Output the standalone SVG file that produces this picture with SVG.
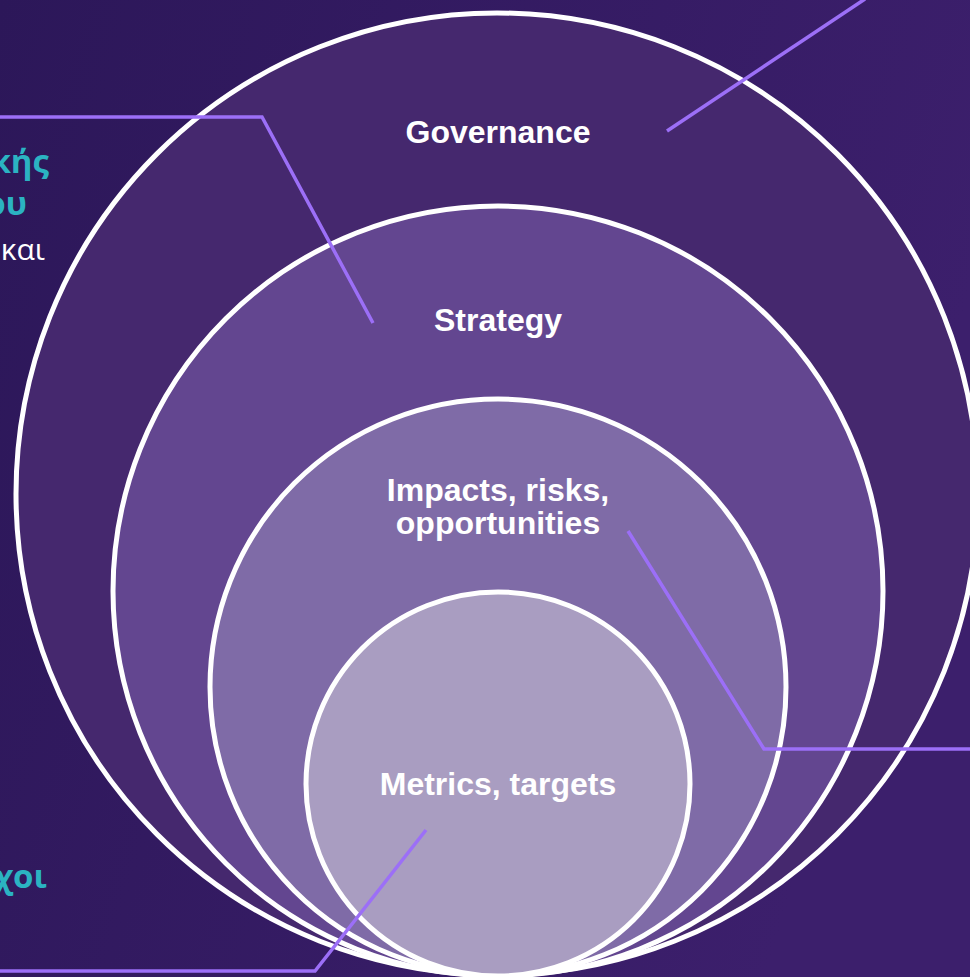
<svg xmlns="http://www.w3.org/2000/svg" width="970" height="977" viewBox="0 0 970 977">
<defs>
<linearGradient id="bg" x1="0" y1="0" x2="1" y2="0.3">
<stop offset="0" stop-color="#2c1759"/>
<stop offset="1" stop-color="#3c1f6c"/>
</linearGradient>
<style>
.ring{stroke:#ffffff;stroke-width:5}
.lbl{font-family:"Liberation Sans",Arial,sans-serif;font-weight:bold;font-size:32px;fill:#ffffff;text-anchor:middle}
.conn{fill:none;stroke:#9c6ff7;stroke-width:3.5}
.teal{font-family:"Open Sans","Noto Sans",sans-serif;font-weight:bold;font-size:33px;fill:#2bb3c2;text-anchor:end}
.wht{font-family:"Open Sans","Noto Sans",sans-serif;font-size:30px;fill:#ffffff;text-anchor:end}
</style>
</defs>
<rect width="970" height="977" fill="url(#bg)"/>
<text class="teal" x="49" y="173">κής</text>
<text class="teal" x="27" y="215">ου</text>
<text class="wht" x="45" y="260">και</text>
<text class="teal" x="47" y="888">χοι</text>
<g id="governance">
<circle class="ring" cx="497" cy="494" r="481" fill="#45286e"/>
<text class="lbl" x="498" y="143">Governance</text>
</g>
<g id="strategy">
<circle class="ring" cx="498" cy="591" r="385" fill="#634690"/>
<text class="lbl" x="498" y="331">Strategy</text>
</g>
<g id="impacts">
<circle class="ring" cx="498" cy="687" r="288" fill="#7f6ba7"/>
<text class="lbl" x="498" y="501">Impacts, risks,</text>
<text class="lbl" x="498" y="534">opportunities</text>
</g>
<g id="metrics">
<circle class="ring" cx="498" cy="784" r="192" fill="#a99dc1"/>
<text class="lbl" x="498" y="795">Metrics, targets</text>
</g>
<g id="connectors">
<polyline class="conn" points="0,117 262,117 373,323"/>
<polyline class="conn" points="667,131 865,-1"/>
<polyline class="conn" points="628,531 764,749 970,749"/>
<polyline class="conn" points="426,830 315,971 0,971"/>
</g>
</svg>
